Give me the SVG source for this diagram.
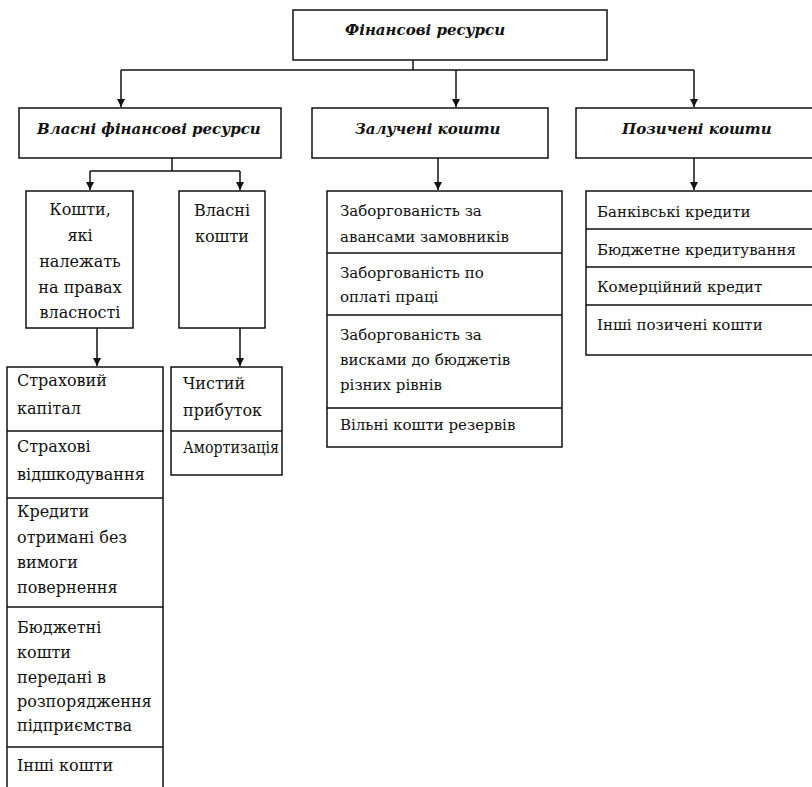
<svg xmlns="http://www.w3.org/2000/svg" width="812" height="787" viewBox="0 0 812 787">
<style>
.box{fill:#fff;stroke:#111;stroke-width:1.5}
.div{stroke:#111;stroke-width:1.5;fill:none}
.con{stroke:#111;stroke-width:1.5;fill:none}
.h{font-family:"DejaVu Serif","Liberation Serif",serif;font-weight:bold;font-style:italic;font-size:15px;fill:#111}
.t{font-family:"DejaVu Serif","Liberation Serif",serif;font-size:15px;fill:#111}
.s{font-family:"DejaVu Serif","Liberation Serif",serif;font-size:16px;fill:#111}
.c{font-family:"DejaVu Serif","Liberation Serif",serif;font-size:16px;fill:#111;text-anchor:middle}
</style>
<defs>
<marker id="arr" markerUnits="userSpaceOnUse" markerWidth="8" markerHeight="8" viewBox="0 0 8 8" refX="8" refY="4" orient="auto">
<path d="M0,0 L8,4 L0,8 z" fill="#111"/>
</marker>
</defs>
<rect width="812" height="787" fill="#fff"/>
<g id="connectors">
<path class="con" d="M413,60 V70"/>
<path class="con" d="M121,70 H694"/>
<path class="con" d="M121,70 V107" marker-end="url(#arr)"/>
<path class="con" d="M456,70 V107" marker-end="url(#arr)"/>
<path class="con" d="M694,70 V107" marker-end="url(#arr)"/>
<path class="con" d="M172,158 V171 M90,171 H240"/>
<path class="con" d="M90,171 V190" marker-end="url(#arr)"/>
<path class="con" d="M240,171 V190" marker-end="url(#arr)"/>
<path class="con" d="M438,158 V190" marker-end="url(#arr)"/>
<path class="con" d="M694,158 V190" marker-end="url(#arr)"/>
<path class="con" d="M97,328 V366" marker-end="url(#arr)"/>
<path class="con" d="M240,328 V366" marker-end="url(#arr)"/>
</g>
<g id="fin-resources">
<rect class="box" x="293" y="10" width="314" height="50"/>
<text class="h" x="345" y="35">Фінансові ресурси</text>
</g>
<g id="own-fin-resources">
<rect class="box" x="19" y="108" width="262" height="50"/>
<text class="h" x="37" y="134">Власні фінансові ресурси</text>
</g>
<g id="attracted-funds">
<rect class="box" x="312" y="108" width="236" height="50"/>
<text class="h" x="355" y="134">Залучені кошти</text>
</g>
<g id="borrowed-funds">
<rect class="box" x="576" y="108" width="250" height="50"/>
<text class="h" x="622" y="134">Позичені кошти</text>
</g>
<g id="ownership-funds">
<rect class="box" x="26" y="191" width="107" height="137"/>
<text class="c" x="80" y="215">Кошти,</text>
<text class="c" x="80" y="241">які</text>
<text class="c" x="80" y="267">належать</text>
<text class="c" x="80" y="293">на правах</text>
<text class="c" x="80" y="318">власності</text>
</g>
<g id="own-funds">
<rect class="box" x="179" y="191" width="86" height="137"/>
<text class="c" x="222" y="216">Власні</text>
<text class="c" x="222" y="242">кошти</text>
</g>
<g id="attracted-list">
<rect class="box" x="327" y="191" width="235" height="256"/>
<path class="div" d="M327,253 H562 M327,315 H562 M327,408 H562"/>
<text class="t" x="340" y="216">Заборгованість за</text>
<text class="t" x="340" y="242">авансами замовників</text>
<text class="t" x="340" y="278">Заборгованість по</text>
<text class="t" x="340" y="302">оплаті праці</text>
<text class="t" x="340" y="340">Заборгованість за</text>
<text class="t" x="340" y="365">висками до бюджетів</text>
<text class="t" x="340" y="390">різних рівнів</text>
<text class="t" x="340" y="430">Вільні кошти резервів</text>
</g>
<g id="borrowed-list">
<rect class="box" x="586" y="191" width="240" height="164"/>
<path class="div" d="M586,229 H826 M586,267 H826 M586,305 H826"/>
<text class="t" x="597" y="217">Банківські кредити</text>
<text class="t" x="597" y="255">Бюджетне кредитування</text>
<text class="t" x="597" y="292">Комерційний кредит</text>
<text class="t" x="597" y="330">Інші позичені кошти</text>
</g>
<g id="ownership-list">
<rect class="box" x="7" y="367" width="156" height="440"/>
<path class="div" d="M7,431 H163 M7,498 H163 M7,607 H163 M7,747 H163"/>
<text class="s" x="17" y="386">Страховий</text>
<text class="s" x="17" y="414">капітал</text>
<text class="s" x="17" y="452">Страхові</text>
<text class="s" x="17" y="480">відшкодування</text>
<text class="s" x="17" y="517">Кредити</text>
<text class="s" x="17" y="543">отримані без</text>
<text class="s" x="17" y="568">вимоги</text>
<text class="s" x="17" y="593">повернення</text>
<text class="s" x="17" y="633">Бюджетні</text>
<text class="s" x="17" y="658">кошти</text>
<text class="s" x="17" y="683">передані в</text>
<text class="s" x="17" y="707">розпорядження</text>
<text class="s" x="17" y="731">підприємства</text>
<text class="s" x="17" y="771">Інші кошти</text>
</g>
<g id="own-list">
<rect class="box" x="171" y="367" width="111" height="108"/>
<path class="div" d="M171,431 H282"/>
<text class="s" x="183" y="389">Чистий</text>
<text class="s" x="183" y="416">прибуток</text>
<text class="s" x="183" y="453" textLength="96" lengthAdjust="spacingAndGlyphs">Амортизація</text>
</g>
</svg>
